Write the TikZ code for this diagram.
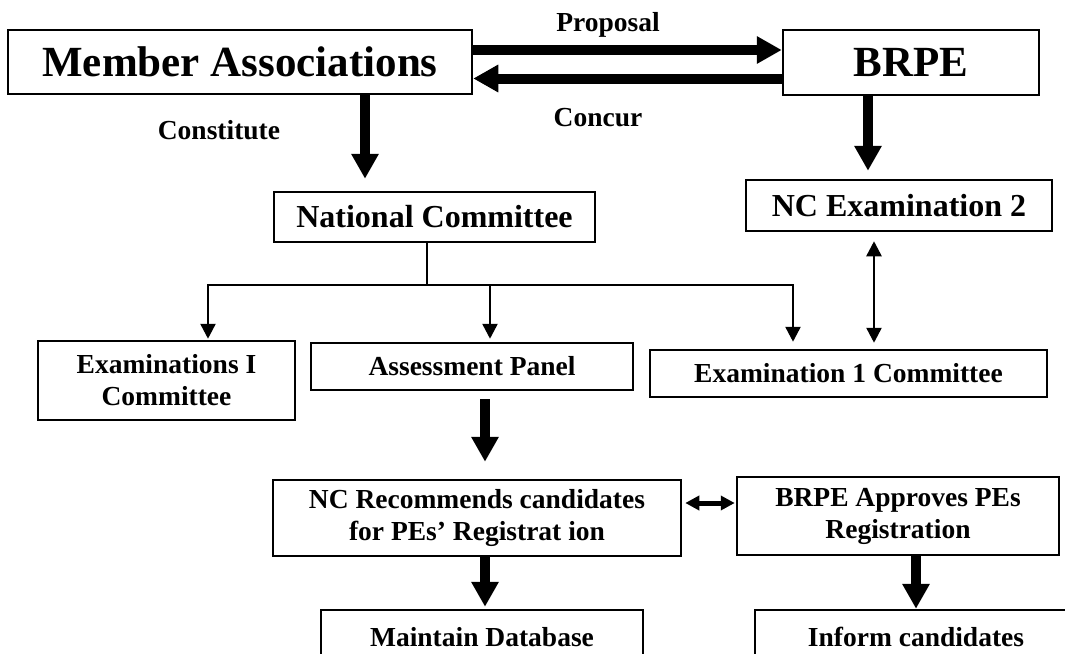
\documentclass[tikz,border=0pt]{standalone}
\usepackage{fontspec}
\setmainfont{Liberation Serif}
\usetikzlibrary{arrows.meta}

\begin{document}
\begin{tikzpicture}[
    x=1pt, y=-1pt,
    box/.style={
        draw,
        line width=2.5pt,
        align=center,
        inner sep=0pt,
        font=\bfseries\fontsize{27.5}{32}\selectfont
    },
    bigbox/.style={box, font=\bfseries\fontsize{43}{48}\selectfont},
    wide/.style={font=\bfseries\fontsize{32}{36}\selectfont},
    lbl/.style={font=\bfseries\fontsize{27.5}{32}\selectfont, inner sep=0pt},
    bigarrow/.style={-{Triangle[length=25pt,width=26pt]}, line width=10pt},
    midarrow/.style={{Triangle[length=14pt,width=14pt]}-{Triangle[length=14pt,width=14pt]}, line width=5pt},
    thinarrow/.style={-{Triangle[length=15pt,width=15pt]}, line width=2.5pt},
    link/.style={line width=2.5pt}
]
\useasboundingbox (0,0) rectangle (1065,653);
\clip (0,0) rectangle (1065,653);

\node[bigbox, minimum width=464pt, minimum height=64pt] (ma) at (240,62) {Member Associations};
\node[bigbox, minimum width=256pt, minimum height=65pt] (brpe) at (911,62.5) {BRPE};
\node[box, wide, minimum width=321pt, minimum height=50pt] (nc) at (434.5,217) {National Committee};
\node[box, wide, minimum width=306pt, minimum height=51pt] (nce2) at (899,205.5) {NC Examination 2};
\node[box, minimum width=257pt, minimum height=79pt] (ex1) at (166.5,380.5) {Examinations I\\Committee};
\node[box, minimum width=322pt, minimum height=47pt] (ap) at (472,366.5) {Assessment Panel};
\node[box, minimum width=397pt, minimum height=47pt] (ec1) at (848.5,373.5) {Examination 1 Committee};
\node[box, minimum width=408pt, minimum height=76pt] (ncr) at (477,518) {NC Recommends candidates\\for PEs’ Registrat ion};
\node[box, minimum width=322pt, minimum height=78pt] (bap) at (898,516) {BRPE Approves PEs\\Registration};
\node[box, minimum width=322pt, minimum height=54pt] (db) at (482,637) {Maintain Database};
\node[box, minimum width=322pt, minimum height=54pt] (inf) at (916,637) {Inform candidates};

\node[lbl] (prop) at (608,25) {Proposal};
\node[lbl] (conc) at (598,118) {Concur};
\node[lbl] (cons) at (219,130) {Constitute};

% top exchange
\draw[bigarrow] ([yshift=12pt]ma.east) -- ([yshift=12pt]ma.east -| brpe.west);
\draw[bigarrow] ([yshift=-16pt]brpe.west) -- ([yshift=-16pt]brpe.west -| ma.east);
\draw[bigarrow, shorten >=12pt] ([xshift=125pt]ma.south) -- ([xshift=125pt]ma.south |- nc.north);
\draw[bigarrow, shorten >=8pt] ([xshift=-43pt]brpe.south) -- ([xshift=-43pt]brpe.south |- nce2.north);

% committee tree
\coordinate (fork) at (427,285);
\draw[link] (nc.south -| fork) -- (fork);
\draw[thinarrow, shorten >=1pt] (fork) -| ([xshift=41.5pt]ex1.north);
\draw[thinarrow, shorten >=3pt] (fork) -| ([xshift=18pt]ap.north);
\draw[thinarrow, shorten >=7pt] (fork) -| ([xshift=-55.5pt]ec1.north);
\draw[thinarrow, {Triangle[length=15pt,width=15pt]}-{Triangle[length=15pt,width=15pt]}, shorten <=6pt, shorten >=9pt] ([xshift=25.5pt]ec1.north) -- ([xshift=25.5pt]ec1.north |- nce2.south);

% registration
\draw[bigarrow, shorten <=8pt, shorten >=17pt] ([xshift=13pt]ap.south) -- ([xshift=13pt]ap.south |- ncr.north);
\draw[midarrow, shorten <=3pt, shorten >=1pt] ([yshift=15pt]ncr.east) -- ([yshift=15pt]ncr.east -| bap.west);
\draw[bigarrow, shorten >=2pt] ([xshift=8pt]ncr.south) -- ([xshift=8pt]ncr.south |- db.north);
\draw[bigarrow] ([xshift=18pt]bap.south) -- ([xshift=18pt]bap.south |- inf.north);

\end{tikzpicture}
\end{document}
